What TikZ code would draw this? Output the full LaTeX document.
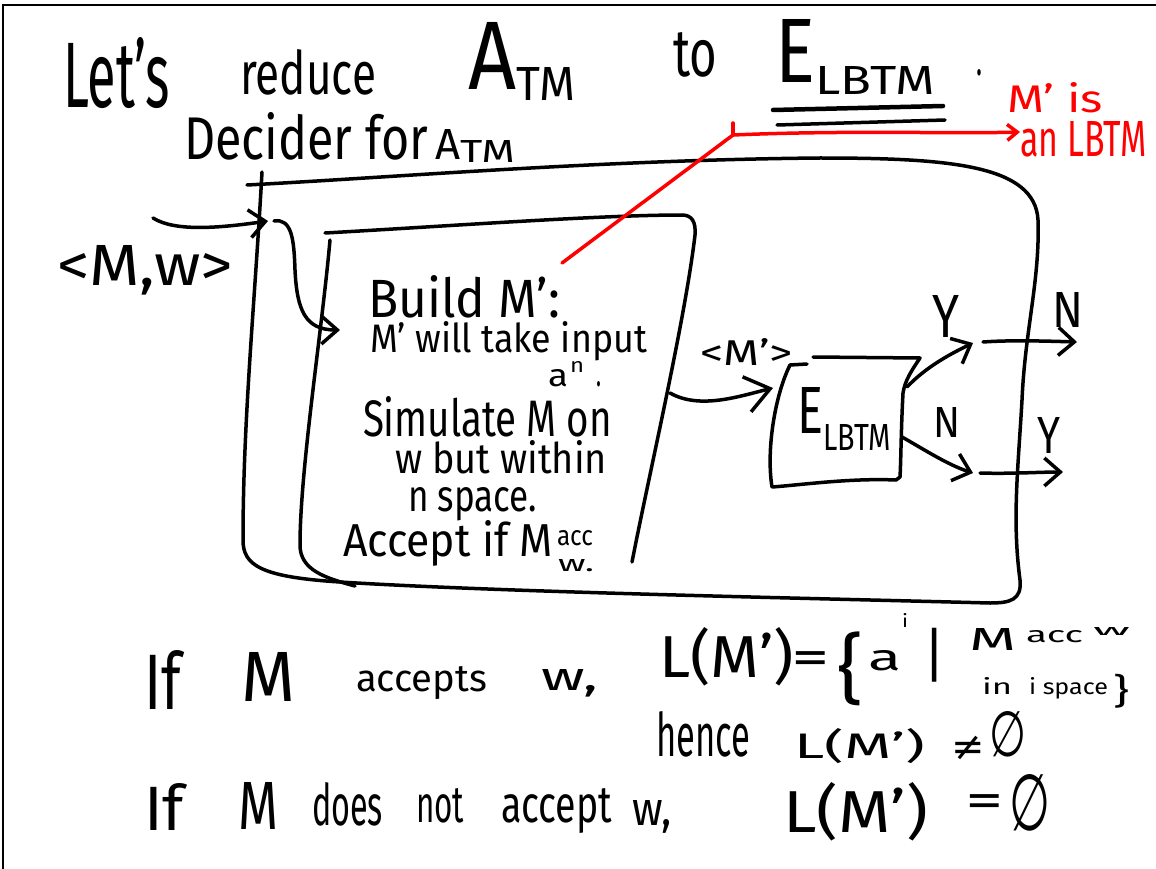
\documentclass[tikz,border=0pt]{standalone}
\usepackage{fontspec}
\setmainfont{Fira Sans}
\newfontfamily\symf{DejaVu Sans}
\usepackage{graphicx}
\usetikzlibrary{arrows.meta}
\definecolor{penred}{RGB}{255,0,0}
\newcommand\hw[3]{\resizebox{#1pt}{#2pt}{#3}}
\newcommand\hwt[3]{\resizebox*{#1pt}{#2pt}{#3}}
\begin{document}
\begin{tikzpicture}[x=1pt,y=-1pt,
  pen/.style={line width=3.5pt, line cap=round, line join=round},
  redpen/.style={pen, draw=penred},
  txt/.style={anchor=base west, inner sep=0pt, outer sep=0pt},
  sym/.style={anchor=center, inner sep=0pt, outer sep=0pt},
  barb/.style={-{Straight Barb[length=16pt,width=28pt]}},
  bigbarb/.style={-{Straight Barb[length=24pt,width=36pt]}},
]
\useasboundingbox (0,0) rectangle (1156,869);
\fill[white] (0,0) rectangle (1156,869);
% frame
\draw[line width=2pt] (3,869) -- (3,5) -- (1156,5);

% ---------- title ----------
\node[txt] (t1) at (63,108) {\hw{107}{70}{Let's}};
\node[txt] (t2) at (240,95) {\hw{136}{45}{reduce}};
\node[txt] (t3) at (468,90) {\hw{48}{67}{A}\raisebox{-10pt}{\hw{59}{33}{TM}}};
\node[txt] (t4) at (673,77) {\hw{44}{44}{to}};
\node[txt] (t5) at (775,83) {\hw{40}{63}{E}\raisebox{-12pt}{\hw{120}{28}{LBTM}}};
\node[txt] (t6) at (976,76) {\hw{6}{6}{.}};
\draw[pen,line width=4.5pt] (773,110) -- (943,106);
\draw[pen] (777,125) -- (945,120);

\node[txt] (dec) at (184,160) {\hw{244}{47}{Decider for}\hspace{7pt}\hw{25}{30}{A}\raisebox{-3pt}{\hw{55}{22}{TM}}};

% ---------- input ----------
\node[txt] (inp) at (57,285) {\hw{176}{40}{<M,w>}};

% ---------- outer box ----------
\draw[pen] (247,185) .. controls (400,177) and (600,160) .. (820,158)
  .. controls (950,158) and (1035,165) .. (1038,220)
  .. controls (1040,280) and (1025,330) .. (1022,400)
  .. controls (1018,470) and (1012,520) .. (1020,580)
  .. controls (1022,600) and (1010,603) .. (990,603)
  .. controls (800,598) and (500,592) .. (340,582)
  .. controls (260,577) and (243,565) .. (243,540)
  .. controls (243,420) and (255,300) .. (262,172);

% ---------- inner box ----------
\draw[pen] (325,233) .. controls (450,226) and (600,215) .. (682,215)
  .. controls (692,215) and (696,222) .. (695,235)
  .. controls (685,320) and (650,470) .. (632,562);
\draw[pen] (330,240) .. controls (322,330) and (300,470) .. (300,545)
  .. controls (300,570) and (325,578) .. (355,586);

\node[txt] (b1) at (368,317) {\hw{192}{42}{Build M':}};
\node[txt] (b2) at (370,352) {\hw{277}{31}{M' will take input}};
\node[txt] (b3) at (548,386) {\hw{20}{17}{a}\hspace{2pt}\raisebox{14pt}{\hw{14}{11}{n}}\hspace{12pt}\hw{5}{5}{.}};
\node[txt] (b4) at (363,436) {\hw{249}{40}{Simulate M on}};
\node[txt] (b5) at (395,473) {\hw{212}{33}{w but within}};
\node[txt] (b6) at (408,511) {\hw{129}{24}{n space.}};
\node[txt] (b7) at (343,556) {\hw{210}{36}{Accept if M}};
\node[txt] (b7a) at (557,545) {\hw{36}{15}{acc}};
\node[txt] (b7b) at (558,571) {\hw{36}{12}{w.}};

% ---------- E_LBTM box ----------
\draw[pen] (813,357) -- (920,358) .. controls (912,370) and (905,380) .. (903,393)
  .. controls (901,430) and (901,460) .. (900,477) -- (896,480)
  .. controls (850,478) and (800,485) .. (772,487)
  .. controls (766,450) and (775,395) .. (790,365) -- (807,364);
\node[txt] (el) at (797,433) {\hw{26}{46}{E}\raisebox{-17pt}{\hw{68}{26}{LBTM}}};
\node[txt] (mp) at (700,365) {\hw{93}{27}{<M'>}};

\node[txt] (y1) at (932,337) {\hw{27}{42}{Y}};
\node[txt] (n1) at (1052,327) {\hw{31}{35}{N}};
\node[txt] (n2) at (933,437) {\hw{27}{30}{N}};
\node[txt] (y2) at (1037,453) {\hw{23}{36}{Y}};

% ---------- connectors ----------
\coordinate (inA) at (153,218);
\coordinate (inB) at (268,221);
\coordinate (feedA) at (274,221);
\coordinate (feedB) at (340,330);
\coordinate (boxOut) at (670,393);
\coordinate (eIn) at (773,388);
\coordinate (eY) at (907,387);
\coordinate (yTip) at (973,343);
\coordinate (eN) at (902,437);
\coordinate (nTip) at (973,473);
\coordinate (yOutA) at (983,342);
\coordinate (yOutB) at (1077,342);
\coordinate (nOutA) at (980,473);
\coordinate (nOutB) at (1063,472);

\draw[pen,barb] (inA) .. controls (175,232) and (220,228) .. (inB);
\draw[pen,barb] (feedA) .. controls (292,218) and (294,240) .. (295,270)
  .. controls (297,310) and (305,330) .. (feedB);
\draw[pen,bigbarb] (boxOut) .. controls (700,410) and (740,396) .. (eIn);
\draw[pen,barb] (eY) .. controls (925,368) and (948,355) .. (yTip);
\draw[pen,barb] (eN) .. controls (925,450) and (948,465) .. (nTip);
\draw[pen,barb] (yOutA) .. controls (1010,340) and (1045,341) .. (yOutB);
\draw[pen,barb] (nOutA) .. controls (1010,474) and (1040,472) .. (nOutB);

% ---------- red annotation ----------
\coordinate (redA) at (562,263);
\coordinate (redK) at (733,135);
\coordinate (redB) at (1020,132);
\draw[redpen,-{Straight Barb[length=10pt,width=16pt]}] (redA) -- (redK)
  .. controls (850,130) and (950,134) .. (redB);
\draw[redpen] (733,123) -- (redK);
\node[txt,text=penred] (r1) at (1007,113) {\hw{96}{30}{M' is}};
\node[txt,text=penred] (r2) at (1020,157) {\hw{127}{35}{an LBTM}};

% ---------- bottom text ----------
\node[txt] (c1) at (144,709) {\hw{37}{59}{If}};
\node[txt] (c2) at (241,701) {\hw{54}{49}{M}};
\node[txt] (c3) at (356,691) {\hw{131}{25}{accepts}};
\node[txt] (c4) at (541,690) {\hw{57}{21}{w,}};
\node[txt] (c5) at (659,677) {\hw{135}{50}{L(M')}};
\node[sym] (c6) at (811,662) {\fontsize{46}{46}\symf =};
\node[sym] (c7) at (850,669) {\hwt{26}{74}{\{}};
\node[txt] (c8) at (868,670) {\hw{33}{20}{a}};
\node[txt] (c9) at (902,627) {\hw{6}{14}{i}};
\node[sym] (c10) at (935,655) {\fontsize{54}{54}\symf |};
\node[txt] (c11) at (969,650) {\hw{47}{22}{M}};
\node[txt] (c12) at (1026,642) {\hw{57}{12}{acc}};
\node[txt] (c13) at (1093,635) {\hw{37}{8}{w}};
\node[txt] (c14) at (982,694) {\hw{30}{17}{in}};
\node[txt] (c15) at (1029,694) {\hw{79}{17}{i space}};
\node[sym] (c16) at (1121,691) {\hwt{16}{34}{\}}};

\node[txt] (d1) at (656,756) {\hw{94}{45}{hence}};
\node[txt] (d2) at (794,758) {\hw{131}{30}{L(M')}};
\node[sym] (d3) at (968,748) {\fontsize{40}{40}\symf ≠};
\node[txt] (d4) at (989,756) {\hw{37}{45}{\symf ∅}};

\node[txt] (e1) at (144,830) {\hw{40}{47}{If}};
\node[txt] (e2) at (238,829) {\hw{40}{47}{M}};
\node[txt] (e3) at (312,825) {\hw{71}{43}{does}};
\node[txt] (e4) at (416,822) {\hw{48}{34}{not}};
\node[txt] (e5) at (501,822) {\hw{111}{34}{accept}};
\node[txt] (e6) at (632,825) {\hw{40}{25}{w,}};
\node[txt] (e7) at (783,832) {\hw{145}{50}{L(M')}};
\node[sym] (e8) at (985,805) {\fontsize{46}{46}\symf =};
\node[txt] (e9) at (1009,830) {\hw{41}{56}{\symf ∅}};
\end{tikzpicture}
\end{document}
